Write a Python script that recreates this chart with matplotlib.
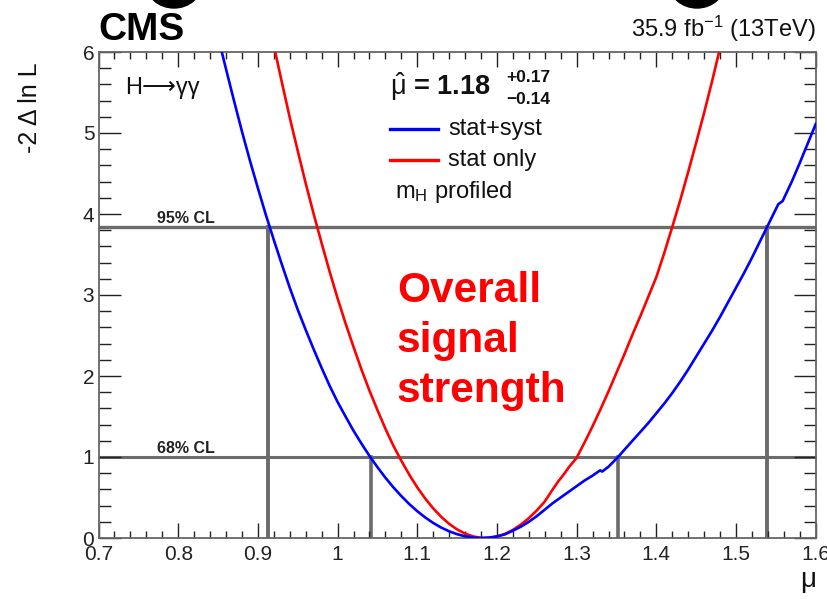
import matplotlib
matplotlib.use('Agg')
import matplotlib.pyplot as plt
from matplotlib.ticker import MultipleLocator, FuncFormatter
from matplotlib.patches import Ellipse

plt.rcParams['font.family'] = ['Liberation Sans', 'DejaVu Sans']
plt.rcParams['mathtext.fontset'] = 'custom'
plt.rcParams['mathtext.rm'] = 'Liberation Sans'
plt.rcParams['mathtext.it'] = 'Liberation Sans:italic'
plt.rcParams['mathtext.bf'] = 'Liberation Sans:bold'

# likelihood scan, stat+syst
mu_full = [0.85, 0.86, 0.87, 0.88, 0.89, 0.90, 0.91, 0.92, 0.93, 0.94,
           0.95, 0.96, 0.97, 0.98, 0.99, 1.00, 1.01, 1.02, 1.03, 1.04,
           1.05, 1.06, 1.07, 1.08, 1.09, 1.10, 1.11, 1.12, 1.13, 1.14,
           1.15, 1.16, 1.17, 1.18, 1.19, 1.20, 1.21, 1.22, 1.23, 1.24,
           1.25, 1.26, 1.27, 1.28, 1.29, 1.30, 1.31, 1.32, 1.3295, 1.332,
           1.34, 1.352, 1.36, 1.37, 1.38, 1.39, 1.40, 1.41, 1.42, 1.43,
           1.44, 1.45, 1.46, 1.47, 1.48, 1.49, 1.50, 1.51, 1.52, 1.53,
           1.54, 1.55, 1.553, 1.5585, 1.57, 1.58, 1.59, 1.60]
nll_full = [6.19, 5.79, 5.40, 5.02, 4.66, 4.32, 3.99, 3.68, 3.38, 3.09,
            2.82, 2.57, 2.33, 2.10, 1.88, 1.68, 1.50, 1.325, 1.165, 1.014,
            0.875, 0.745, 0.626, 0.518, 0.419, 0.331, 0.254, 0.186, 0.129, 0.083,
            0.047, 0.021, 0.005, 0.0, 0.005, 0.02, 0.045, 0.09, 0.14, 0.20,
            0.27, 0.35, 0.43, 0.50, 0.57, 0.64, 0.71, 0.77, 0.835, 0.82,
            0.88, 1.00, 1.09, 1.20, 1.31, 1.42, 1.54, 1.66, 1.79, 1.93,
            2.08, 2.24, 2.40, 2.56, 2.73, 2.91, 3.09, 3.27, 3.46, 3.66,
            3.86, 4.06, 4.12, 4.16, 4.40, 4.63, 4.87, 5.11]

# likelihood scan, stat only
mu_stat = [0.92, 0.93, 0.94, 0.95, 0.96, 0.97, 0.98, 0.99, 1.00, 1.01,
           1.02, 1.03, 1.04, 1.05, 1.06, 1.07, 1.08, 1.09, 1.10, 1.11,
           1.12, 1.13, 1.14, 1.15, 1.16, 1.17, 1.18, 1.185, 1.19, 1.20,
           1.21, 1.22, 1.23, 1.24, 1.25, 1.26, 1.27, 1.277, 1.285, 1.29,
           1.30, 1.31, 1.32, 1.33, 1.34, 1.35, 1.36, 1.37, 1.38, 1.39,
           1.40, 1.41, 1.42, 1.43, 1.44, 1.45, 1.46, 1.47, 1.48]
nll_stat = [6.08, 5.63, 5.19, 4.78, 4.38, 4.00, 3.64, 3.29, 2.96, 2.65,
            2.36, 2.08, 1.82, 1.58, 1.35, 1.14, 0.954, 0.781, 0.625, 0.487,
            0.366, 0.262, 0.175, 0.106, 0.054, 0.0195, 0.002, 0.0, 0.002, 0.017,
            0.05, 0.10, 0.165, 0.245, 0.34, 0.45, 0.60, 0.70, 0.80, 0.87,
            0.99, 1.18, 1.38, 1.59, 1.81, 2.04, 2.27, 2.51, 2.74, 2.98,
            3.22, 3.52, 3.84, 4.17, 4.52, 4.88, 5.25, 5.64, 6.05]

# intervals from the stat+syst curve
cl_levels = [1.0, 3.84]
cl_names = ['68% CL', '95% CL']
cl_lo = [1.0415, 0.913]
cl_hi = [1.352, 1.539]

mu_hat = 1.18
err_up = 0.17
err_dn = 0.14

W, H = 827, 599
fig = plt.figure(figsize=(W / 100, H / 100), dpi=100)

# slide residue at the very top edge
bg = fig.add_axes([0, 0, 1, 1])
bg.set_xlim(0, W)
bg.set_ylim(H, 0)
bg.axis('off')
for cx in [174, 697]:
    bg.add_patch(Ellipse((cx, -17), 56, 50, color='black'))

ax = fig.add_axes([98.5 / W, 61 / H, 717.2 / W, 486 / H])
ax.set_xlim(0.7, 1.6)
ax.set_ylim(0, 6)

gray = '#6b6b6b'
for lvl, lo, hi, name in zip(cl_levels, cl_lo, cl_hi, cl_names):
    lw = 2.2 if lvl < 2 else 2.4
    ax.axhline(lvl, color=gray, lw=lw, zorder=1)
    ax.plot([lo, lo], [0, lvl], color=gray, lw=lw + 0.4, zorder=1)
    ax.plot([hi, hi], [0, lvl], color=gray, lw=lw + 0.4, zorder=1)
    ax.text(0.7734, lvl + 0.05, name, fontsize=11.5, fontweight='bold',
            color='#222222', ha='left', va='baseline')

ax.plot(mu_stat, nll_stat, color='#ff0000', lw=1.9, zorder=3)
ax.plot(mu_full, nll_full, color='#0000ff', lw=1.9, zorder=4)

# ROOT-like ticks on all sides
ax.xaxis.set_major_locator(MultipleLocator(0.1))
ax.xaxis.set_minor_locator(MultipleLocator(0.02))
ax.yaxis.set_major_locator(MultipleLocator(1))
ax.yaxis.set_minor_locator(MultipleLocator(0.2))
ax.xaxis.set_major_formatter(FuncFormatter(lambda v, p: '%g' % round(v, 2)))
ax.yaxis.set_major_formatter(FuncFormatter(lambda v, p: '%g' % v))
ax.tick_params(which='both', direction='in', top=True, right=True,
               colors='#222222', width=1.0)
ax.tick_params(which='major', labelsize=15)
ax.xaxis.set_tick_params(which='major', length=10.5, pad=5)
ax.xaxis.set_tick_params(which='minor', length=5)
ax.yaxis.set_tick_params(which='major', length=16, pad=3)
ax.yaxis.set_tick_params(which='minor', length=8.5)
for sp in ax.spines.values():
    sp.set_color('#666666')
    sp.set_linewidth(1.3)

# plot texts
ax.text(0.037, 0.9136, 'H\u27f6γγ', transform=ax.transAxes,
        fontsize=17, ha='left', va='baseline', color='#111111')
ax.text(0.4065, 0.9115, r'$\hat{\mathrm{\mu}}$ = %.2f' % mu_hat,
        transform=ax.transAxes, fontsize=19.5, fontweight='bold',
        ha='left', va='baseline', color='#111111')
ax.text(0.568, 0.939, '+%.2f' % err_up, transform=ax.transAxes, fontsize=12.5,
        fontweight='bold', ha='left', va='baseline', color='#111111')
ax.text(0.568, 0.8924, '\u2212%.2f' % err_dn, transform=ax.transAxes,
        fontsize=12.5, fontweight='bold', ha='left', va='baseline',
        color='#111111')

ax.plot([0.4065, 0.4734], [0.8416, 0.8416], transform=ax.transAxes,
        color='#0000ff', lw=2.4)
ax.plot([0.4065, 0.4734], [0.7778, 0.7778], transform=ax.transAxes,
        color='#ff0000', lw=2.4)
ax.text(0.4873, 0.8292, 'stat+syst', transform=ax.transAxes, fontsize=17,
        ha='left', va='baseline', color='#111111')
ax.text(0.4873, 0.7654, 'stat only', transform=ax.transAxes, fontsize=17,
        ha='left', va='baseline', color='#111111')
ax.text(0.4134, 0.6996, r'm$_\mathrm{H}$ profiled', transform=ax.transAxes,
        fontsize=17, ha='left', va='baseline', color='#111111')

for i, line in enumerate(['Overall', 'signal', 'strength']):
    ax.text(0.4162, 0.4862 - i * 0.1029, line, transform=ax.transAxes,
            fontsize=30.5, fontweight='bold', color='#ff0000',
            ha='left', va='baseline')

# axis titles and header
fig.text(30 / W, 1 - 62 / H, '-2 Δ ln L', rotation=90, fontsize=18,
         ha='center', va='top', color='#111111')
fig.text(808 / W, 1 - 580 / H, 'μ', fontsize=20, ha='center', va='center',
         color='#111111')
fig.text(98 / W, 1 - 40 / H, 'CMS', fontsize=28, fontweight='bold',
         ha='left', va='baseline')
fig.text(816 / W, 1 - 37 / H, r'35.9 fb$^{\mathregular{-1}}$ (13TeV)',
         fontsize=17, ha='right', va='baseline', color='#111111')

fig.savefig('out.png', dpi=100)
